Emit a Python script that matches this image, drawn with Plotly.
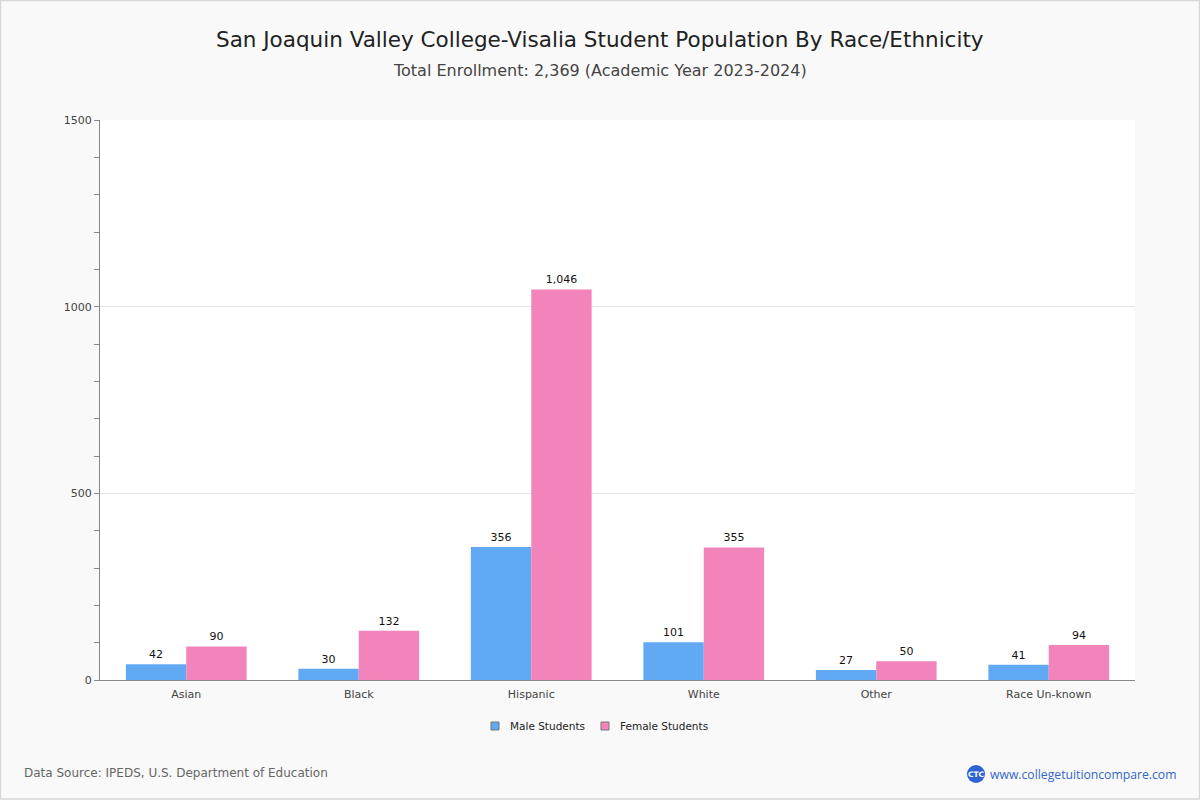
import plotly.graph_objects as go

categories = ["Asian", "Black", "Hispanic", "White", "Other", "Race Un-known"]
male = [42, 30, 356, 101, 27, 41]
female = [90, 132, 1046, 355, 50, 94]
y_ticks = [0, 500, 1000, 1500]
series_names = ["Male Students", "Female Students"]
series_colors = ["#62a9f4", "#f283bb"]

W, H = 1200, 800
L, R, T, B = 100, 65, 120, 120
pw, ph = W - L - R, H - T - B

def px(x):
    return (x - L) / pw

def py(y):
    return (H - B - y) / ph

FONT = "DejaVu Sans"

fig = go.Figure()
for name, vals, col in zip(series_names, [male, female], series_colors):
    fig.add_trace(go.Bar(
        name=name, x=categories, y=vals, showlegend=False,
        marker=dict(color=col, line=dict(width=0)),
        text=vals, texttemplate="%{y:,}", textposition="outside",
        textfont=dict(size=11, color="#111", family=FONT), cliponaxis=False,
    ))

fig.update_layout(
    width=W, height=H,
    margin=dict(l=L, r=R, t=T, b=B),
    paper_bgcolor="#f9f9f9",
    plot_bgcolor="#ffffff",
    font=dict(family=FONT, color="#333"),
    barmode="group",
    bargap=0.3,
    bargroupgap=0,
    showlegend=False,
    xaxis=dict(
        showgrid=False, showline=True, linecolor="#888", linewidth=1,
        ticks="", tickfont=dict(size=11, color="#444", family=FONT),
        ticklabelstandoff=4,
        fixedrange=True,
    ),
    yaxis=dict(
        range=[0, 1500], tickvals=y_ticks, ticktext=[str(v) for v in y_ticks],
        showgrid=True, gridcolor="#e3e3e3", gridwidth=1,
        showline=True, linecolor="#888", linewidth=1,
        ticks="outside", ticklen=5, tickcolor="#888",
        minor=dict(dtick=100, ticks="outside", ticklen=5, tickcolor="#888", showgrid=False),
        tickfont=dict(size=11, color="#444", family=FONT),
        zeroline=False,
    ),
)

annotations = [
    dict(text="San Joaquin Valley College-Visalia Student Population By Race/Ethnicity",
         x=px(600), y=py(39), xref="paper", yref="paper", xanchor="center", yanchor="middle",
         showarrow=False, font=dict(size=21.5, color="#222", family=FONT)),
    dict(text="Total Enrollment: 2,369 (Academic Year 2023-2024)",
         x=px(600), y=py(70), xref="paper", yref="paper", xanchor="center", yanchor="middle",
         showarrow=False, font=dict(size=16, color="#444", family=FONT)),
    dict(text="Data Source: IPEDS, U.S. Department of Education",
         x=px(22), y=py(773), xref="paper", yref="paper", xanchor="left", yanchor="middle",
         showarrow=False, font=dict(size=12, color="#666", family=FONT)),
    dict(text="www.collegetuitioncompare.com",
         x=px(988), y=py(774), xref="paper", yref="paper", xanchor="left", yanchor="middle",
         showarrow=False, font=dict(size=12.2, color="#3366cc", family="Open Sans")),
    dict(text="<b>CTC</b>",
         x=px(976), y=py(774), xref="paper", yref="paper", xanchor="center", yanchor="middle",
         showarrow=False, font=dict(size=7.5, color="#ffffff", family=FONT)),
]

# custom legend (small bordered squares)
legend_sq_x = [495, 605]
for name, col, sx in zip(series_names, series_colors, legend_sq_x):
    fig.add_shape(type="rect", xref="paper", yref="paper",
                  x0=px(sx - 4), x1=px(sx + 4), y0=py(730), y1=py(722),
                  fillcolor=col, line=dict(color="#777", width=1))
    annotations.append(dict(text=name, x=px(sx + 13), y=py(726), xref="paper", yref="paper",
                            xanchor="left", yanchor="middle", showarrow=False,
                            font=dict(size=10.5, color="#222", family=FONT)))

fig.update_layout(annotations=annotations)

fig.add_shape(type="circle", xref="paper", yref="paper",
              x0=px(967), x1=px(985), y0=py(783), y1=py(765),
              fillcolor="#2f64d6", line=dict(width=0), layer="below")
fig.add_shape(type="rect", xref="paper", yref="paper",
              x0=px(0.5), x1=px(1199.5), y0=py(799), y1=py(0.5),
              line=dict(color="#d8d8d8", width=1.5), fillcolor="rgba(0,0,0,0)")

fig.write_html("out.html")
